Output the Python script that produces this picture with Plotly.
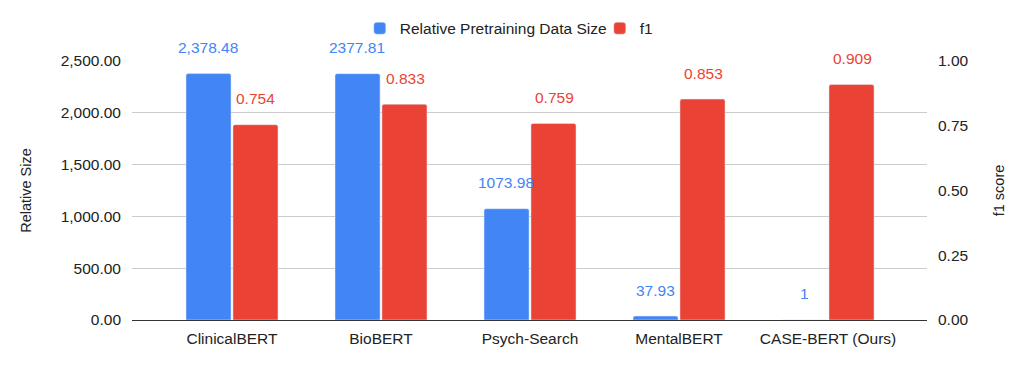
import plotly.graph_objects as go

# dados do gráfico
modelos = ['ClinicalBERT', 'BioBERT', 'Psych-Search', 'MentalBERT', 'CASE-BERT (Ours)']
tamanho_relativo = [2378.48, 2377.81, 1073.98, 37.93, 1]
rotulos_tamanho = ['2,378.48', '2377.81', '1073.98', '37.93', '1']
f1 = [0.754, 0.833, 0.759, 0.853, 0.909]
rotulos_f1 = ['0.754', '0.833', '0.759', '0.853', '0.909']

AZUL = '#4285F4'
VERMELHO = '#EA4335'
FONTE = 'Arial, Liberation Sans, sans-serif'
TAM = 15.5

fig = go.Figure()

fig.add_trace(go.Bar(
    x=modelos, y=tamanho_relativo, name='Relative Pretraining Data Size',
    marker_color=AZUL, offsetgroup=1, yaxis='y',
))
fig.add_trace(go.Bar(
    x=modelos, y=f1, name='f1',
    marker_color=VERMELHO, offsetgroup=2, yaxis='y2',
))

# rótulos de dados acima das barras
for m, v, t in zip(modelos, tamanho_relativo, rotulos_tamanho):
    fig.add_annotation(x=m, y=v, yref='y', text=t, showarrow=False,
                       xshift=-24, yshift=26, font=dict(color=AZUL, size=TAM, family=FONTE))
for m, v, t in zip(modelos, f1, rotulos_f1):
    fig.add_annotation(x=m, y=v, yref='y2', text=t, showarrow=False,
                       xshift=24, yshift=26, font=dict(color=VERMELHO, size=TAM, family=FONTE))

fig.update_layout(
    width=1028, height=366,
    margin=dict(l=132, r=101, t=59, b=46),
    plot_bgcolor='white', paper_bgcolor='white',
    font=dict(family=FONTE, size=TAM, color='#222222'),
    barmode='group', bargap=0.37, bargroupgap=0.04, barcornerradius=2,
    legend=dict(orientation='h', x=0.2865, xanchor='left', y=1.125, yanchor='middle',
                font=dict(size=TAM, color='#222222'), itemwidth=30,
                entrywidth=195, entrywidthmode='pixels'),
    xaxis=dict(range=[-0.671, 4.664], showgrid=False, ticks='', showline=False,
               ticklabelstandoff=7),
    yaxis=dict(title=dict(text='Relative Size', standoff=25, font=dict(size=14.5)),
               range=[0, 2500], tickvals=[0, 500, 1000, 1500, 2000, 2500],
               tickformat=',.2f', gridcolor='#cccccc', zeroline=True,
               zerolinecolor='#333333', zerolinewidth=1.3,
               ticklabelstandoff=10),
    yaxis2=dict(title=dict(text='f1 score', standoff=26, font=dict(size=14.5)),
                range=[0, 1], tickvals=[0, 0.25, 0.5, 0.75, 1.0], tickformat='.2f',
                overlaying='y', side='right', showgrid=False, zeroline=False,
                ticklabelstandoff=10),
)

# remove a margem padrão do body para a figura ocupar a janela inteira
fig.write_html('out.html', config={'displayModeBar': False},
               post_script="document.body.style.margin='0';")
